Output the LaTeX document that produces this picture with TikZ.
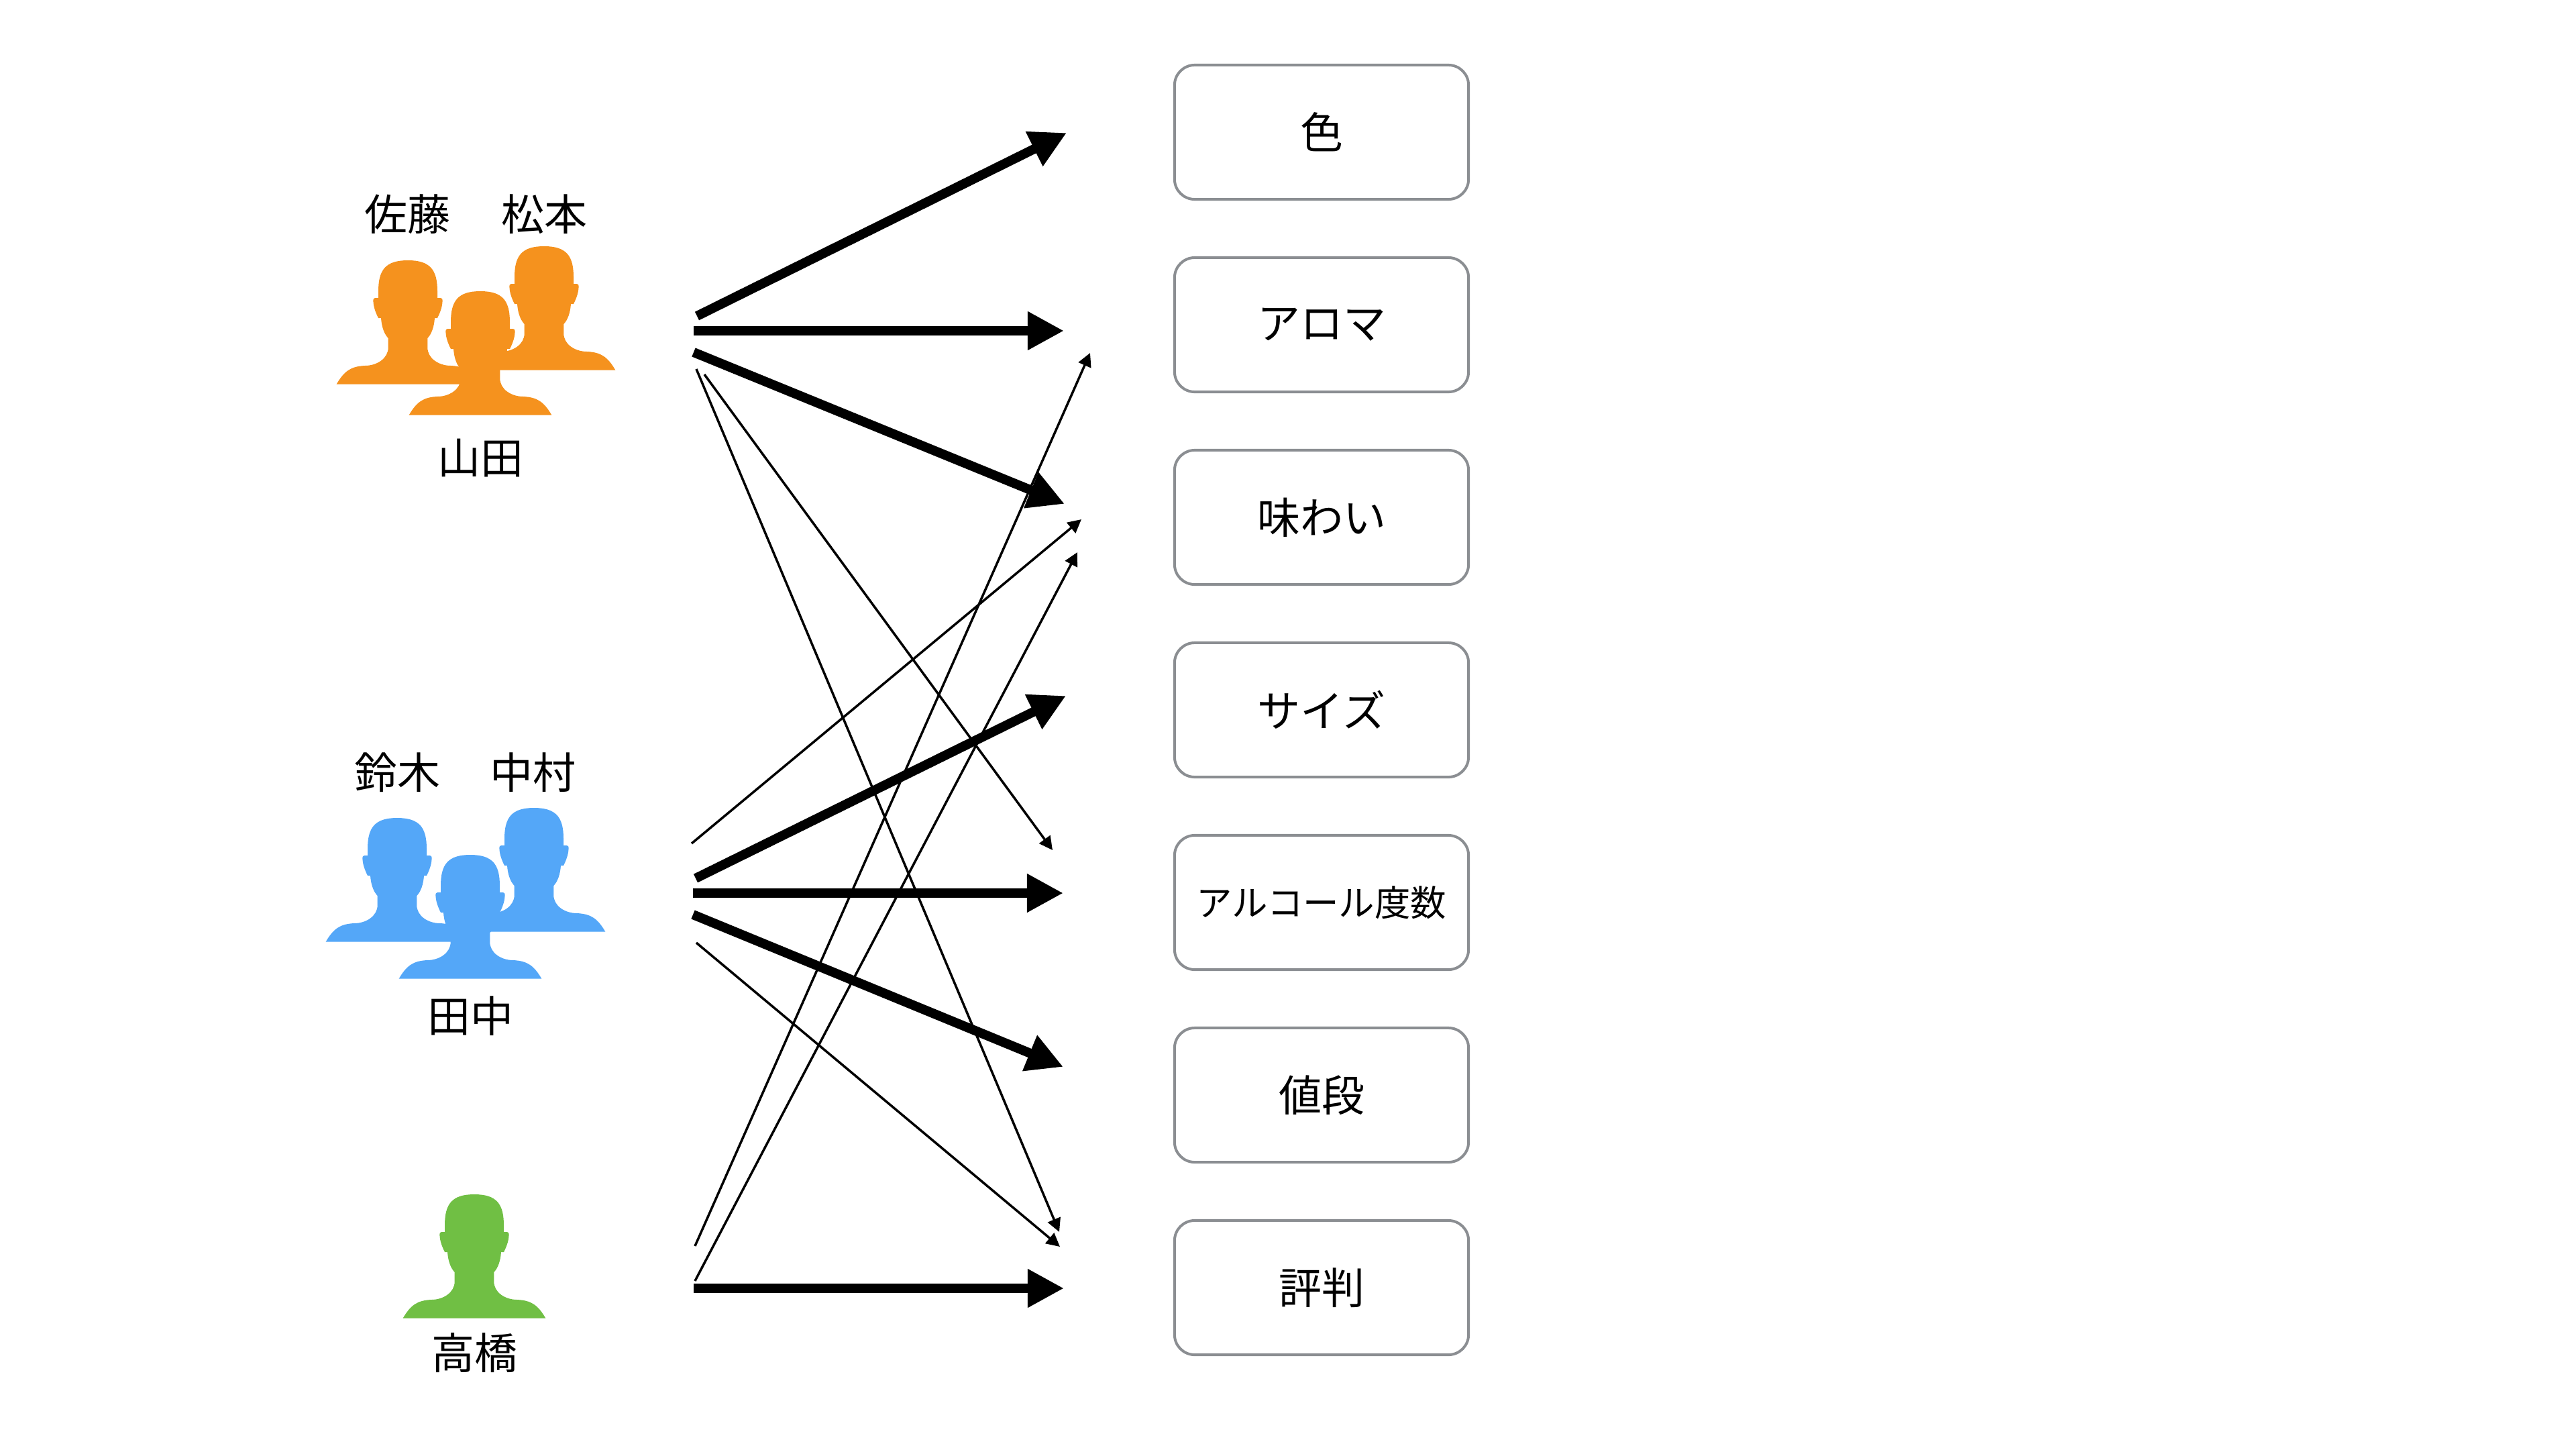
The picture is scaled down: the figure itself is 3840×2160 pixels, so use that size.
\documentclass[tikz,border=0pt]{standalone}
\usepackage{fontspec}
\setmainfont{Noto Sans CJK JP}
\usetikzlibrary{arrows.meta}
\definecolor{headorange}{HTML}{F5921E}
\definecolor{headblue}{HTML}{54A7F8}
\definecolor{headgreen}{HTML}{70BF44}
\definecolor{boxgray}{HTML}{8B8E92}
\tikzset{
  item/.style={draw=boxgray,line width=0.04cm,rounded corners=0.3cm,minimum width=4.38cm,minimum height=2cm,inner sep=0,font=\fontsize{18.2pt}{20pt}\selectfont},
  who/.style={inner sep=0,font=\fontsize{18.2pt}{20pt}\selectfont},
  bigarrow/.style={line width=0.14cm,-{Triangle[length=0.54cm,width=0.54cm]}},
  smallarrow/.style={line width=0.035cm,-{Triangle[length=0.2cm,width=0.2cm]}},
  person/.pic={
    \fill[pic actions] (0,0) .. controls (33,0) and (44,14) .. (44,46) -- (44,56) -- (49,56) .. controls (51,56) and (52,58) .. (51.5,62) .. controls (51,70) and (48,78) .. (44,86) -- (40,86) .. controls (39,100) and (35,110) .. (29.3,116) -- (29.3,130) .. controls (29.3,146) and (46,157) .. (64,157) .. controls (85,158) and (95,165) .. (106.4,184.7) -- (-106.4,184.7) .. controls (-95,165) and (-85,158) .. (-64,157) .. controls (-46,157) and (-29.3,146) .. (-29.3,130) -- (-29.3,116) .. controls (-35,110) and (-39,100) .. (-40,86) -- (-44,86) .. controls (-48,78) and (-51,70) .. (-51.5,62) .. controls (-52,58) and (-51,56) .. (-49,56) -- (-44,56) -- (-44,46) .. controls (-44,14) and (-33,0) .. (0,0) -- cycle;
  }
}
\begin{document}
\begin{tikzpicture}[x=0.01cm,y=-0.01cm]
\useasboundingbox (0,0) rectangle (3840,2160);

\pic[fill=headorange] at (608,388) {person};
\pic[fill=headorange] at (811,367) {person};
\pic[fill=headorange] at (716,434) {person};
\pic[fill=headblue] at (592,1219) {person};
\pic[fill=headblue] at (796,1204) {person};
\pic[fill=headblue] at (701,1274) {person};
\pic[fill=headgreen] at (707,1780) {person};

\node [who] (sato) at (607,319) {佐藤};
\node [who] (matsumoto) at (811,319) {松本};
\node [who] (yamada) at (716,683) {山田};
\node [who] (suzuki) at (592,1151) {鈴木};
\node [who] (nakamura) at (794,1151) {中村};
\node [who] (tanaka) at (701,1514) {田中};
\node [who] (takahashi) at (707,2016) {高橋};

\node [item] (color) at (1970,197) {色};
\node [item] (aroma) at (1970,484) {アロマ};
\node [item] (taste) at (1970,771) {味わい};
\node [item] (size) at (1970,1058) {サイズ};
\node [item,font=\fontsize{15.2pt}{18pt}\selectfont] (alcohol) at (1970,1345) {アルコール度数};
\node [item] (price) at (1970,1632) {値段};
\node [item] (review) at (1970,1919) {評判};

\coordinate (o1) at (1039,471);
\coordinate (o2) at (1034,493);
\coordinate (o3) at (1034,525);
\coordinate (o4) at (1038,550);
\coordinate (o5) at (1050,558);
\coordinate (b1) at (1031,1257);
\coordinate (b2) at (1037,1309);
\coordinate (b3) at (1033,1331);
\coordinate (b4) at (1033,1363);
\coordinate (b5) at (1038,1405);
\coordinate (g1) at (1036,1857);
\coordinate (g2) at (1036,1909);
\coordinate (g3) at (1034,1920);

\coordinate (colorin) at (1590,198);
\coordinate (aromain) at (1586,493);
\coordinate (aromain2) at (1625,526);
\coordinate (tastein) at (1587,751);
\coordinate (tastein2) at (1612,774);
\coordinate (tastein3) at (1606,823);
\coordinate (sizein) at (1589,1037);
\coordinate (alcoholin) at (1585,1331);
\coordinate (alcoholin2) at (1569,1267);
\coordinate (pricein) at (1585,1590);
\coordinate (reviewin) at (1586,1920);
\coordinate (reviewin2) at (1579,1836);
\coordinate (reviewin3) at (1580,1858);

\draw [bigarrow] (o1) -- (colorin);
\draw [bigarrow] (o2) -- (aromain);
\draw [bigarrow] (o3) -- (tastein);
\draw [smallarrow] (o4) -- (reviewin2);
\draw [smallarrow] (o5) -- (alcoholin2);
\draw [smallarrow] (b1) -- (tastein2);
\draw [bigarrow] (b2) -- (sizein);
\draw [bigarrow] (b3) -- (alcoholin);
\draw [bigarrow] (b4) -- (pricein);
\draw [smallarrow] (b5) -- (reviewin3);
\draw [smallarrow] (g1) -- (aromain2);
\draw [smallarrow] (g2) -- (tastein3);
\draw [bigarrow] (g3) -- (reviewin);

\end{tikzpicture}
\end{document}
